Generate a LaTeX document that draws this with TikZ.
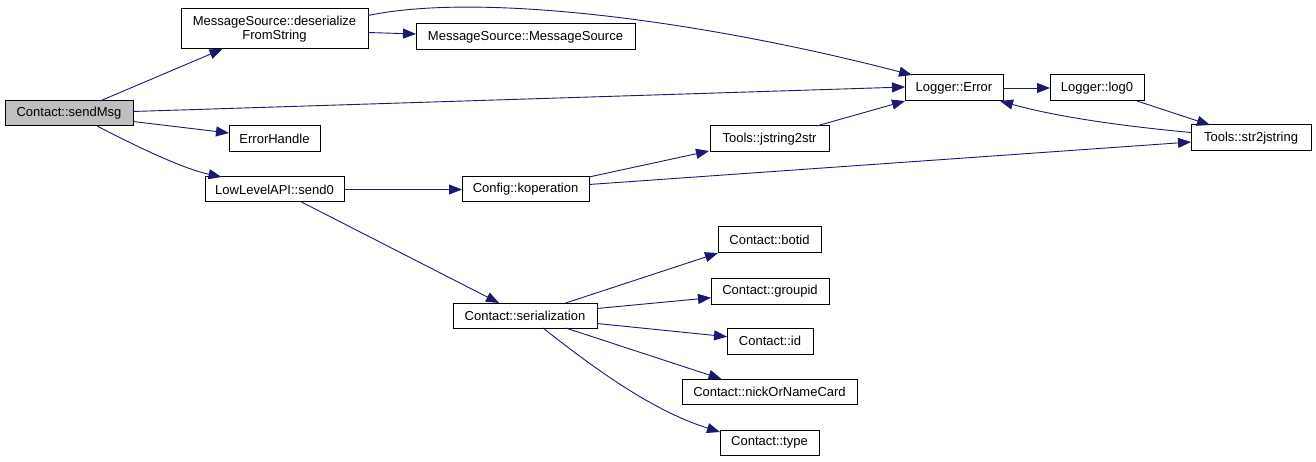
\documentclass[tikz,border=0pt]{standalone}
\usepackage{fontspec}
\setmainfont{Liberation Sans}
\usetikzlibrary{arrows.meta,calc}
\definecolor{edgec}{HTML}{191970}
\definecolor{rootfill}{HTML}{BFBFBF}
\begin{document}
\begin{tikzpicture}[x=1pt,y=-1pt,
  box/.style={draw=black,fill=white,line width=1pt,inner sep=0pt,outer sep=0pt,
    font=\fontsize{13}{13.5}\selectfont,align=center},
  root/.style={box,fill=rootfill},
  edge/.style={draw=edgec,line width=0.9pt,-{Triangle[length=13pt,width=10pt,fill=edgec]}}]
\useasboundingbox (0,0) rectangle (1316,462);
% nodes
\node[root,minimum width=128pt,minimum height=25pt] (send) at (69,113.5) {Contact::sendMsg};
\node[box,minimum width=187pt,minimum height=40pt] (deser) at (274.5,29) {MessageSource::deserialize\\FromString};
\node[box,minimum width=219pt,minimum height=26pt] (msrc) at (525.5,37) {MessageSource::MessageSource};
\node[box,minimum width=98pt,minimum height=26pt] (err) at (954,88) {Logger::Error};
\node[box,minimum width=94pt,minimum height=26pt] (log) at (1097,88) {Logger::log0};
\node[box,minimum width=91pt,minimum height=26pt] (ehandle) at (274.5,139) {ErrorHandle};
\node[box,minimum width=139pt,minimum height=25pt] (sendz) at (274.5,189.5) {LowLevelAPI::send0};
\node[box,minimum width=127pt,minimum height=25pt] (kop) at (525.5,189.5) {Config::koperation};
\node[box,minimum width=119pt,minimum height=26pt] (jts) at (769.5,139) {Tools::jstring2str};
\node[box,minimum width=120pt,minimum height=26pt] (stj) at (1251,138) {Tools::str2jstring};
\node[box,minimum width=103pt,minimum height=26pt] (botid) at (769.5,240) {Contact::botid};
\node[box,minimum width=118pt,minimum height=26pt] (groupid) at (770,291) {Contact::groupid};
\node[box,minimum width=144pt,minimum height=25pt] (serial) at (525,315.5) {Contact::serialization};
\node[box,minimum width=86pt,minimum height=26pt] (cid) at (770,341) {Contact::id};
\node[box,minimum width=175pt,minimum height=25pt] (nick) at (769.5,391.5) {Contact::nickOrNameCard};
\node[box,minimum width=99pt,minimum height=25pt] (ctype) at (769.5,442.5) {Contact::type};
% edges
\draw[edge] ($(send.north)+(31,0)$) -- ($(deser.south)+(-52,0)$);
\draw[edge] ($(send.east)+(0,-2)$) -- ($(err.west)+(0,-1)$);
\draw[edge] ($(send.east)+(0,8)$) -- ($(ehandle.west)+(0,-6)$);
\draw[edge] ($(send.south)+(28,0)$) .. controls (130,143) and (180,168) .. ($(sendz.north)+(-53,0)$);
\draw[edge] ($(deser.east)+(0,3.5)$) -- ($(msrc.west)+(0,-3)$);
\draw[edge] ($(deser.east)+(0,-13.5)$) .. controls (480,-8) and (700,20) .. ($(err.north west)+(7,0)$);
\draw[edge] (sendz.east) -- (kop.west);
\draw[edge] ($(sendz.south)+(27,0)$) -- ($(serial.north)+(-26,0)$);
\draw[edge] (kop.north east) -- ($(jts.south west)+(-1,-1)$);
\draw[edge] ($(kop.east)+(0,-5)$) -- ($(stj.west)+(0,4)$);
\draw[edge] ($(jts.north)+(47,0)$) -- (err.south west);
\draw[edge] (err.east) -- (log.west);
\draw[edge] ($(log.south)+(40,0)$) -- ($(stj.north)+(-41,0)$);
\draw[edge] ($(stj.west)+(0,-5.5)$) .. controls (1110,125) and (1050,115) .. ($(err.south east)+(-3,0)$);
\draw[edge] ($(serial.north)+(40.7,0)$) -- (botid.south west);
\draw[edge] ($(serial.east)+(0,-7)$) -- ($(groupid.west)+(0,6.7)$);
\draw[edge] ($(serial.east)+(0,8)$) -- ($(cid.west)+(0,-4.3)$);
\draw[edge] ($(serial.south)+(40.7,0)$) -- ($(nick.north)+(-48,0)$);
\draw[edge] ($(serial.south)+(18,0)$) .. controls (590,365) and (650,410) .. ($(ctype.north west)+(0,2)$);
\end{tikzpicture}
\end{document}
